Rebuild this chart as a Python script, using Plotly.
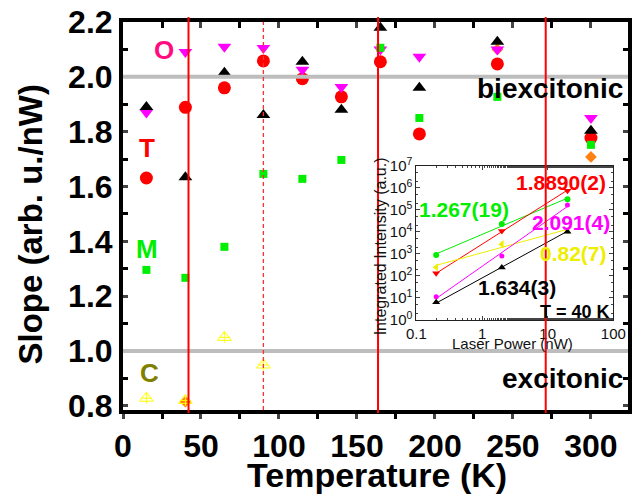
import numpy as np
import plotly.graph_objects as go

# ---- main panel: power-law slope vs temperature ----
temps = [15, 40, 65, 90, 115, 140, 165, 190, 240, 300]
slope_O = [1.87, 2.091, 2.11, 2.105, 2.026, 1.963, 2.10, 2.073, 2.10, 1.85]      # magenta
slope_T = [1.631, 1.889, 1.96, 2.058, 1.993, 1.927, 2.055, 1.792, 2.047, 1.777]  # red
slope_X = [1.89, 1.634, 2.015, 1.861, 2.055, 1.88, 2.179, 1.96, 2.128, 1.803]   # black
slope_M = [1.296, 1.267, 1.38, 1.646, 1.628, 1.697, 2.106, 1.85, 1.927, 1.752]  # green
temps_C = [15, 40, 65, 90]
slope_C = [0.828, 0.82, 1.05, 0.949]                                             # yellow
temps_D = [40, 240, 300]
slope_D = [0.815, 2.10, 1.708]                                                   # orange

ref_levels = [2.0, 1.0]
ref_labels = ["biexcitonic", "excitonic"]
solid_marks = [42, 163.5, 271]
dashed_marks = [90]

x_ticks = [0, 50, 100, 150, 200, 250, 300]
y_ticks = [0.8, 1.0, 1.2, 1.4, 1.6, 1.8, 2.0, 2.2]

# ---- inset: integrated intensity vs laser power at 40 K ----
power = [0.2, 2, 20]
inset_green = [900, 2.3e4, 3.1e5]
inset_red = [132, 1.1e4, 7.5e5]
inset_magenta = [11.5, 810, 1.7e5]
inset_yellow = [250, 2.8e3, 1.15e4]
inset_black = [6.4, 240, 1.03e4]
fit_slopes = {"green": 1.267, "red": 1.889, "magenta": 2.091, "yellow": 0.82, "black": 1.634}
fit_labels = {"green": "1.267(19)", "red": "1.8890(2)", "magenta": "2.091(4)",
              "yellow": "0.82(7)", "black": "1.634(3)"}
inset_y_ticks = [1, 10, 100, 1e3, 1e4, 1e5, 1e6, 1e7]
inset_x_ticks = [0.1, 1, 10, 100]
inset_x_text = ["0.1", "1", "10", "100"]

RED = "#ff0000"
MAG = "#ff00ff"
GRN = "#00ee00"
YEL = "#ffff00"
ORG = "#ff7f10"
FONT = "Liberation Sans, Arial, sans-serif"

fig = go.Figure()

fig.add_trace(go.Scatter(x=temps_D, y=slope_D, mode="markers",
                         marker=dict(symbol="diamond", size=9, color=ORG)))
fig.add_trace(go.Scatter(x=temps_C, y=slope_C, mode="markers",
                         marker=dict(symbol="triangle-up-open", size=12, color=YEL,
                                     line=dict(width=1, color=YEL))))
fig.add_trace(go.Scatter(x=temps_C, y=slope_C, mode="markers",
                         marker=dict(symbol="cross-thin-open", size=8, color=YEL,
                                     line=dict(width=1, color=YEL))))
fig.add_trace(go.Scatter(x=temps, y=slope_T, mode="markers",
                         marker=dict(symbol="circle", size=13, color=RED)))
fig.add_trace(go.Scatter(x=temps, y=slope_O, mode="markers",
                         marker=dict(symbol="triangle-down", size=12, color=MAG)))
fig.add_trace(go.Scatter(x=temps, y=slope_M, mode="markers",
                         marker=dict(symbol="square", size=8, color=GRN)))
fig.add_trace(go.Scatter(x=temps, y=slope_X, mode="markers",
                         marker=dict(symbol="triangle-up", size=12, color="black")))
# empty trace so the top axis (inward ticks) is rendered
fig.add_trace(go.Scatter(x=[], y=[], xaxis="x2", yaxis="y", mode="markers"))

# inset traces
inset_sets = [("green", inset_green, GRN, "circle", 6),
              ("red", inset_red, RED, "triangle-down", 7),
              ("yellow", inset_yellow, "#eeee00", "triangle-left", 7),
              ("magenta", inset_magenta, MAG, "circle", 5),
              ("black", inset_black, "black", "triangle-up", 7)]
lx = np.log10(power)
for name, vals, col, sym, sz in inset_sets:
    ly = np.log10(vals)
    k = fit_slopes[name]
    b = ly.mean() - k * lx.mean()
    xs = np.array([power[0], power[-1]])
    fig.add_trace(go.Scatter(x=xs, y=10 ** (b + k * np.log10(xs)), mode="lines",
                             line=dict(color=col, width=1), xaxis="x3", yaxis="y3"))
    fig.add_trace(go.Scatter(x=power, y=vals, mode="markers",
                             marker=dict(symbol=sym, size=sz, color=col),
                             xaxis="x3", yaxis="y3"))

# reference levels (grey) and temperature markers (red)
for lv in ref_levels:
    fig.add_shape(type="line", xref="paper", yref="y", x0=0, x1=1, y0=lv, y1=lv,
                  line=dict(color="#bdbdbd", width=4), layer="above")
for t in solid_marks:
    fig.add_shape(type="line", xref="x", yref="paper", x0=t, x1=t, y0=-0.008, y1=1.013,
                  line=dict(color=RED, width=2), layer="above")
for t in dashed_marks:
    fig.add_shape(type="line", xref="x", yref="paper", x0=t, x1=t, y0=0, y1=1,
                  line=dict(color="#ff3030", width=1.3, dash="4px,3px"), layer="above")


def label(text, x, y, font, xref="paper", yref="paper", xanchor="center", angle=0):
    return dict(text=text, x=x, y=y, xref=xref, yref=yref, xanchor=xanchor,
                yanchor="middle", textangle=angle, showarrow=False, font=font)


ann = []
# series letters
for txt, x, y, col in [("O", 26, 2.099, "#ff0d80"), ("T", 15.6, 1.74, RED),
                       ("M", 15.6, 1.372, GRN), ("C", 17, 0.92, "#808000")]:
    ann.append(label(txt, x, y, dict(family=FONT, size=26, color=col, weight="bold"),
                     xref="x", yref="y"))
# regime labels
for txt, y in zip(ref_labels, [1.956, 0.9015]):
    ann.append(label(txt, 0.995, y, dict(family=FONT, size=28, color="black", weight="bold"),
                     yref="y", xanchor="right"))
# axis titles
ann.append(label("Slope (arb. u./nW)", -0.1834, 0.479,
                 dict(family=FONT, size=33, color="black", weight="bold"), angle=-90))
ann.append(label("Temperature (K)", 0.503, -0.1675,
                 dict(family=FONT, size=34, color="black", weight="bold")))
# inset titles
ann.append(label("Laser Power (nW)", 0.772, 0.1705, dict(family=FONT, size=15, color="#111")))
ann.append(label("Integrated Intensity (a.u.)", 0.5116, 0.4227,
                 dict(family=FONT, size=16, color="#111"), angle=-90))
# inset slope labels
for name, x, y, col in [("red", 0.8668, 0.5876, RED), ("green", 0.6757, 0.5155, GRN),
                        ("magenta", 0.888, 0.4845, MAG), ("yellow", 0.892, 0.4046, "#eeee00"),
                        ("black", 0.78, 0.317, "black")]:
    ann.append(label(fit_labels[name], x, y,
                     dict(family=FONT, size=21, color=col, weight="bold")))
ann.append(label("T = 40 K", 0.968, 0.2526,
                 dict(family=FONT, size=18, color="black", weight="bold"), xanchor="right"))

tickfont = dict(family=FONT, size=32, color="black", weight="bold")
small = dict(family=FONT, size=15, color="#111")

fig.update_layout(
    width=642, height=497,
    margin=dict(l=123, r=1, t=22, b=87),
    paper_bgcolor="white", plot_bgcolor="white",
    showlegend=False,
    annotations=ann,
    xaxis=dict(range=[0, 323.75], tickvals=x_ticks, ticks="outside", ticklen=5, tickwidth=3,
               showline=True, linewidth=4, linecolor="black", mirror=True,
               showgrid=False, zeroline=False, tickfont=tickfont,
               minor=dict(dtick=25, tick0=0, ticks="outside", ticklen=5, tickwidth=3,
                          tickcolor="black", showgrid=False)),
    xaxis2=dict(overlaying="x", matches="x", side="top", anchor="y", range=[0, 323.75],
                tickvals=x_ticks, ticks="inside", ticklen=6, tickwidth=3,
                showticklabels=False, showline=False, showgrid=False, zeroline=False,
                minor=dict(dtick=25, tick0=0, ticks="inside", ticklen=6, tickwidth=3,
                           tickcolor="black", showgrid=False)),
    yaxis=dict(range=[0.785, 2.2], tickvals=y_ticks, tickformat=".1f", ticks="inside",
               ticklen=5, tickwidth=3, showline=True, linewidth=4, linecolor="black",
               mirror="ticks", showgrid=False, zeroline=False, tickfont=tickfont,
               minor=dict(dtick=0.1, tick0=0.8, ticks="inside", ticklen=5, tickwidth=3,
                          tickcolor="black", showgrid=False)),
    xaxis3=dict(domain=[0.581, 0.971], anchor="y3", type="log", range=[-1, 2],
                tickvals=inset_x_ticks, ticktext=inset_x_text, ticks="inside", ticklen=4,
                showline=True, linewidth=1, linecolor="#222", mirror="ticks",
                showgrid=False, zeroline=False, tickfont=small,
                minor=dict(ticks="inside", ticklen=2, showgrid=False)),
    yaxis3=dict(domain=[0.232, 0.629], anchor="x3", type="log", range=[0, 7],
                tickvals=inset_y_ticks,
                ticktext=[f"10<sup>{i}</sup>" for i in range(8)],
                ticks="inside", ticklen=4,
                showline=True, linewidth=1, linecolor="#222", mirror="ticks",
                showgrid=False, zeroline=False, tickfont=small,
                minor=dict(ticks="inside", ticklen=2, showgrid=False)),
)

fig.write_html("out.html")
